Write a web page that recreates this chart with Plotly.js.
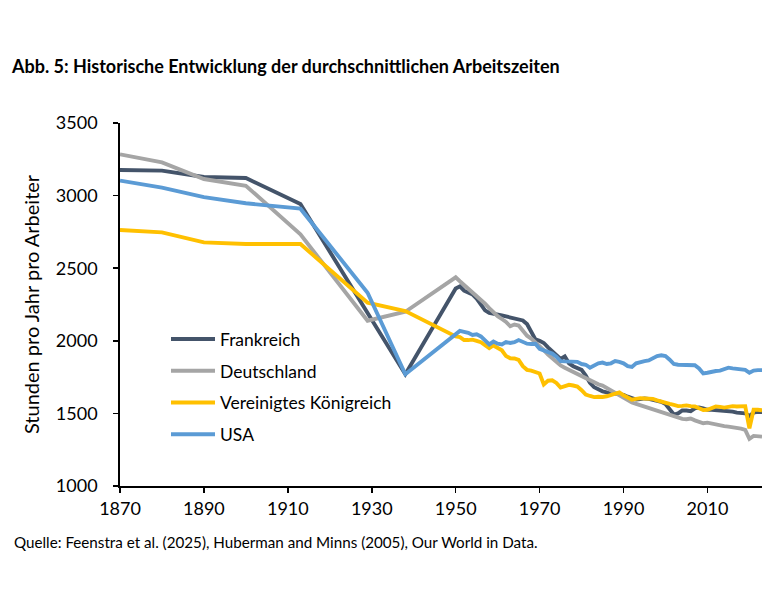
<!DOCTYPE html>
<html>
<head>
<meta charset="utf-8">
<script src="https://cdn.plot.ly/plotly-3.0.1.min.js"></script>
<style>html,body{margin:0;padding:0;background:#fff;}#chart{width:782px;height:592px;}</style>
</head>
<body>
<div id="chart"></div>
<script>
const earlyYears = [1870, 1880, 1890, 1900, 1913, 1929, 1938];
const lateYears = [];
for (let y = 1950; y <= 2023; y++) lateYears.push(y);
const years = earlyYears.concat(lateYears);

const frankreich = [3176, 3172, 3128, 3121, 2942, 2190, 1770,
  2360, 2375, 2345, 2335, 2320, 2290, 2245, 2210, 2192, 2188,
  2185, 2175, 2168, 2160, 2155, 2145, 2140, 2115, 2060, 2010,
  2000, 1985, 1955, 1930, 1905, 1875, 1893, 1845, 1825, 1810,
  1800, 1760, 1710, 1680, 1665, 1652, 1645, 1640, 1638, 1635,
  1628, 1615, 1605, 1595, 1598, 1603, 1600, 1595, 1590, 1580,
  1565, 1530, 1492, 1500, 1520, 1520, 1515, 1535, 1540, 1535,
  1525, 1525, 1523, 1520, 1519, 1515, 1512, 1505, 1502, 1500,
  1482, 1505, 1510, 1510];

const deutschland = [3284, 3229, 3114, 3068, 2733, 2138, 2200,
  2437, 2410, 2385, 2355, 2330, 2305, 2280, 2255, 2225, 2195,
  2170, 2150, 2130, 2100, 2112, 2105, 2070, 2035, 2015, 1990,
  1965, 1935, 1905, 1880, 1855, 1830, 1815, 1800, 1785, 1772,
  1760, 1742, 1725, 1710, 1700, 1692, 1675, 1655, 1640, 1625,
  1605, 1585, 1575, 1565, 1555, 1545, 1535, 1528, 1520, 1508,
  1495, 1485, 1476, 1468, 1462, 1460, 1465, 1452, 1440, 1432,
  1436, 1430, 1420, 1415, 1412, 1409, 1405, 1400, 1395, 1386,
  1325, 1345, 1345, 1340];

const vereinigtesKoenigreich = [2763, 2747, 2678, 2667, 2667, 2262, 2205,
  2030, 2025, 2005, 2005, 2008, 2000, 1990, 1970, 1950, 1968,
  1955, 1935, 1895, 1880, 1878, 1868, 1825, 1800, 1795, 1785,
  1775, 1700, 1725, 1728, 1710, 1678, 1690, 1697, 1692, 1685,
  1660, 1630, 1620, 1612, 1615, 1613, 1618, 1628, 1640, 1645,
  1625, 1610, 1595, 1600, 1605, 1603, 1603, 1600, 1590, 1580,
  1573, 1565, 1558, 1550, 1552, 1555, 1550, 1548, 1535, 1523,
  1525, 1535, 1548, 1545, 1540, 1545, 1550, 1548, 1550, 1550,
  1397, 1525, 1525, 1522];

const usa = [3103, 3055, 2989, 2947, 2910, 2331, 1770,
  2050, 2068, 2062, 2055, 2040, 2045, 2030, 2005, 1975, 1995,
  1980, 1975, 1992, 1985, 1990, 2005, 1995, 1980, 1978, 1980,
  1945, 1935, 1925, 1912, 1890, 1860, 1858, 1857, 1860, 1855,
  1840, 1835, 1815, 1830, 1845, 1850, 1840, 1845, 1860, 1855,
  1845, 1825, 1820, 1845, 1855, 1860, 1865, 1880, 1895, 1900,
  1895, 1870, 1840, 1835, 1835, 1835, 1835, 1832, 1810, 1775,
  1780, 1788, 1792, 1795, 1805, 1815, 1810, 1805, 1805, 1800,
  1780, 1795, 1798, 1798];

const seriesNames = ["Frankreich", "Deutschland", "Vereinigtes Königreich", "USA"];
const seriesValues = [frankreich, deutschland, vereinigtesKoenigreich, usa];
const seriesColors = ["#44546A", "#A5A5A5", "#FFC000", "#5B9BD5"];

const xTicks = [1870, 1890, 1910, 1930, 1950, 1970, 1990, 2010];
const yTicks = [1000, 1500, 2000, 2500, 3000, 3500];

const chartTitle = "Abb. 5: Historische Entwicklung der durchschnittlichen Arbeitszeiten";
const yTitle = "Stunden pro Jahr pro Arbeiter";
const sourceText = "Quelle: Feenstra et al. (2025), Huberman and Minns (2005), Our World in Data.";

const FONT = "Lato, 'Open Sans', sans-serif";

const traces = seriesNames.map((name, i) => ({
  type: "scatter",
  mode: "lines",
  name: name,
  legendgroup: "g" + i,
  x: years,
  y: seriesValues[i],
  line: { color: seriesColors[i], width: 3.9, shape: "linear" },
  hoverinfo: "x+y+name"
}));

const layout = {
  width: 782,
  height: 592,
  paper_bgcolor: "#ffffff",
  plot_bgcolor: "#ffffff",
  margin: { l: 120, r: 20, t: 123, b: 106 },
  font: { family: FONT, size: 17, color: "#000000" },
  title: {
    text: "<b>" + chartTitle + "</b>",
    font: { family: FONT, size: 18, color: "#000000" },
    xref: "container", yref: "container",
    x: 12 / 782, xanchor: "left",
    y: 1 - 67 / 592, yanchor: "middle"
  },
  xaxis: {
    range: [1870, 2023],
    tickmode: "array",
    tickvals: xTicks,
    ticktext: xTicks.map(String),
    ticks: "outside",
    ticklen: 5,
    tickwidth: 1.5,
    tickcolor: "#000000",
    showline: true,
    linecolor: "#000000",
    linewidth: 1.8,
    showgrid: false,
    zeroline: false,
    ticklabelstandoff: 1,
    tickfont: { family: FONT, size: 18, color: "#000000" },
    fixedrange: true
  },
  yaxis: {
    range: [1000, 3500],
    tickmode: "array",
    tickvals: yTicks,
    ticktext: yTicks.map(String),
    ticks: "outside",
    ticklen: 5,
    tickwidth: 1.5,
    tickcolor: "#000000",
    showline: true,
    linecolor: "#000000",
    linewidth: 1.8,
    showgrid: false,
    zeroline: false,
    ticklabelstandoff: 12,
    tickfont: { family: FONT, size: 18, color: "#000000" },
    title: { text: yTitle, font: { family: FONT, size: 20, color: "#000000" }, standoff: 11 },
    automargin: false,
    fixedrange: true
  },
  showlegend: true,
  legend: {
    x: (166 - 120) / 642,
    xanchor: "left",
    y: (486 - 321) / 363.3,
    yanchor: "top",
    bgcolor: "rgba(255,255,255,0)",
    borderwidth: 0,
    font: { family: FONT, size: 17.5, color: "#000000" },
    tracegroupgap: 6,
    itemwidth: 44
  },
  annotations: [{
    text: sourceText,
    xref: "paper", yref: "paper",
    x: (12 - 120) / 642, xanchor: "left",
    y: (486 - 542) / 363.3, yanchor: "middle",
    showarrow: false,
    font: { family: FONT, size: 15.2, color: "#000000" }
  }]
};

Plotly.newPlot("chart", traces, layout, { displayModeBar: false, staticPlot: true });
</script>
</body>
</html>
